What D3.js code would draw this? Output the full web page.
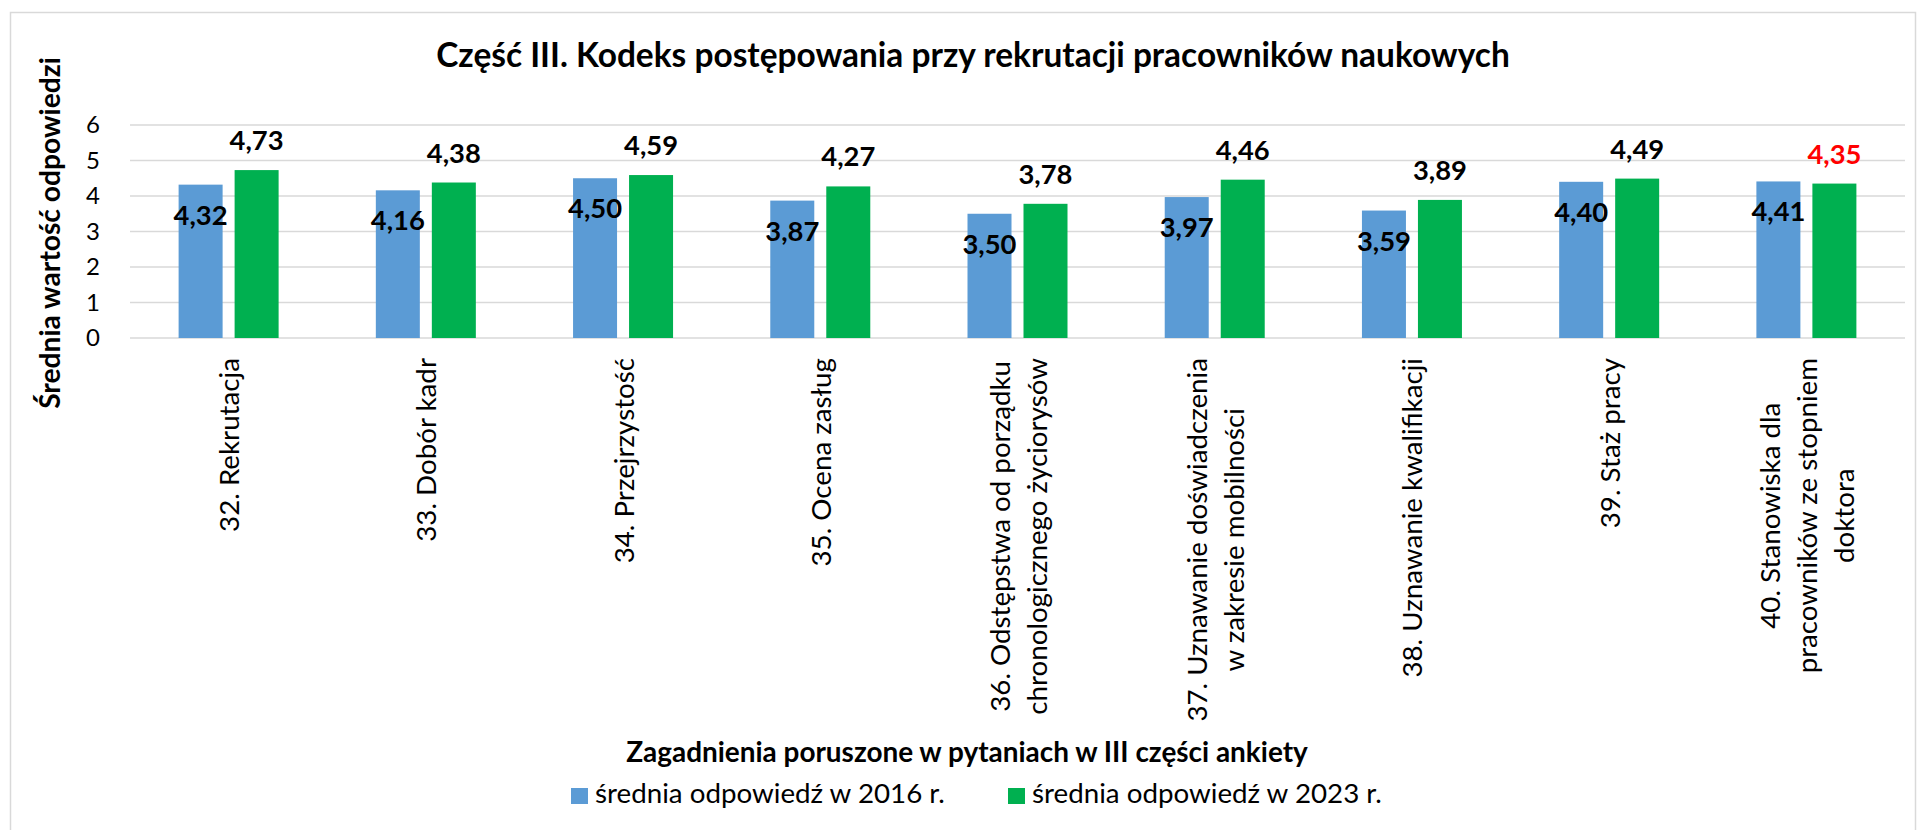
<!DOCTYPE html>
<html>
<head>
<meta charset="utf-8">
<script src="https://cdn.jsdelivr.net/npm/d3@7"></script>
<style>
  html, body { margin: 0; padding: 0; background: #fff; }
  svg { display: block; font-family: Lato, "Open Sans", sans-serif; }
</style>
</head>
<body>
<svg id="chart" width="1917" height="830"></svg>
<script>
// data ----------------------------------
const categories = [
    ['32. Rekrutacja'],
    ['33. Dobór kadr'],
    ['34. Przejrzystość'],
    ['35. Ocena zasług'],
    ['36. Odstępstwa od porządku', 'chronologicznego życiorysów'],
    ['37. Uznawanie doświadczenia', 'w zakresie mobilności'],
    ['38. Uznawanie kwalifikacji'],
    ['39. Staż pracy'],
    ['40. Stanowiska dla', 'pracowników ze stopniem', 'doktora']
];
const values2016 = [4.32, 4.16, 4.50, 3.87, 3.50, 3.97, 3.59, 4.40, 4.41];
const values2023 = [4.73, 4.38, 4.59, 4.27, 3.78, 4.46, 3.89, 4.49, 4.35];
const seriesNames = ['średnia odpowiedź w 2016 r.', 'średnia odpowiedź w 2023 r.'];
const seriesColors = ['#5b9bd5', '#00b050'];
const yTicks = [0, 1, 2, 3, 4, 5, 6];
const chartTitle = 'Część III. Kodeks postępowania przy rekrutacji pracowników naukowych';
const xTitle = 'Zagadnienia poruszone w pytaniach w III części ankiety';
const yTitle = 'Średnia wartość odpowiedzi';

const svg = d3.select('#chart');
const margin = { top: 125, right: 12, bottom: 492, left: 130 };
const width = 1917 - margin.left - margin.right;
const height = 830 - margin.top - margin.bottom;

const fmt = v => d3.format('.2f')(v).replace('.', ',');

// scale text so that its measured length equals the target
function fitTo(sel, target) {
    const w = sel.node().getComputedTextLength();
    const fs = parseFloat(sel.attr('font-size'));
    const nfs = fs * target / w;
    sel.attr('font-size', nfs);
    return nfs;
}

// frame
svg.append('rect')
    .attr('x', 10.5).attr('y', 12.5)
    .attr('width', 1905).attr('height', 830)
    .attr('fill', 'none').attr('stroke', '#d9d9d9').attr('stroke-width', 1.5);

const g = svg.append('g').attr('transform', 'translate(' + margin.left + ',' + margin.top + ')');

const idx = d3.range(categories.length);
const x0 = d3.scaleBand().domain(idx).range([0, width]).padding(0);
const x1 = d3.scaleBand().domain([0, 1]).range([0, x0.bandwidth()])
    .paddingInner(12 / 56).paddingOuter(0.868);
const y = d3.scaleLinear().domain([0, 6]).range([height, 0]);

// grid
g.append('g').selectAll('line').data(yTicks).join('line')
    .attr('x1', 0).attr('x2', width)
    .attr('y1', d => y(d)).attr('y2', d => y(d))
    .attr('stroke', '#d9d9d9').attr('stroke-width', 1.5);

// y axis tick labels
const yAxis = d3.axisLeft(y).tickValues(yTicks).tickFormat(d3.format('d')).tickSize(0).tickPadding(30);
const ya = g.append('g').call(yAxis);
ya.select('.domain').remove();
ya.selectAll('text').attr('font-size', 24).attr('fill', '#000')
    .attr('font-family', 'Lato, sans-serif');

// bars
const series = [values2016, values2023];
series.forEach((vals, s) => {
    g.append('g').selectAll('rect').data(vals).join('rect')
        .attr('x', (d, i) => x0(i) + x1(s))
        .attr('y', d => y(d))
        .attr('width', x1.bandwidth())
        .attr('height', d => y(0) - y(d))
        .attr('fill', seriesColors[s]);
});

// data labels
const lab16 = g.append('g').selectAll('text').data(values2016).join('text')
    .attr('x', (d, i) => x0(i) + x1(0) + x1.bandwidth() / 2)
    .attr('y', d => y(d) + 40)
    .attr('text-anchor', 'middle').attr('font-weight', 'bold').attr('font-size', 26)
    .attr('fill', '#000')
    .text(fmt);
const lab23 = g.append('g').selectAll('text').data(values2023).join('text')
    .attr('x', (d, i) => x0(i) + x1(1) + x1.bandwidth() / 2)
    .attr('y', d => y(d) - 20)
    .attr('text-anchor', 'middle').attr('font-weight', 'bold').attr('font-size', 26)
    .attr('fill', (d, i) => i === categories.length - 1 ? '#ff0000' : '#000')
    .text(fmt);
const lfs = fitTo(d3.select(lab23.nodes()[0]), 54);
lab16.attr('font-size', lfs);
lab23.attr('font-size', lfs);

// category labels (rotated, multi-line, centred)
const catG = g.append('g').selectAll('g').data(categories).join('g')
    .attr('transform', (d, i) => 'translate(' + (x0(i) + x0.bandwidth() / 2) + ',' + (height + 20) + ') rotate(-90)');
const probe = catG.filter((d, i) => i === 0).append('text').attr('font-size', 26).text(d => d[0]);
const cfs = fitTo(probe, 174);
probe.remove();
catG.each(function (lines) {
    const el = d3.select(this);
    const ts = el.selectAll('text').data(lines).join('text')
        .attr('font-size', cfs).attr('fill', '#000')
        .attr('text-anchor', 'middle').attr('dominant-baseline', 'central')
        .text(d => d);
    const L = d3.max(ts.nodes(), n => n.getComputedTextLength());
    const lh = 37;
    ts.attr('x', -L / 2).attr('y', (d, k) => (k - (lines.length - 1) / 2) * lh);
});

// title
const t = svg.append('text').attr('x', 973).attr('y', 67)
    .attr('text-anchor', 'middle').attr('font-weight', 'bold').attr('font-size', 30)
    .text(chartTitle);
fitTo(t, 1074);

// y title
const yt = svg.append('text')
    .attr('transform', 'translate(49,233) rotate(-90)')
    .attr('text-anchor', 'middle').attr('dominant-baseline', 'central')
    .attr('font-weight', 'bold').attr('font-size', 26)
    .text(yTitle);
fitTo(yt, 352);

// x title
const xt = svg.append('text').attr('x', 967).attr('y', 762)
    .attr('text-anchor', 'middle').attr('font-weight', 'bold').attr('font-size', 26)
    .text(xTitle);
fitTo(xt, 682);

// legend
const legX = [571, 1008];
const leg = svg.append('g').selectAll('g').data(seriesNames).join('g')
    .attr('transform', (d, i) => 'translate(' + legX[i] + ',788)');
leg.append('rect').attr('width', 17).attr('height', 16)
    .attr('fill', (d, i) => seriesColors[i]);
const legT = leg.append('text').attr('x', 24).attr('y', 15)
    .attr('font-size', 24).attr('fill', '#000').text(d => d);
const lgfs = fitTo(d3.select(legT.nodes()[0]), 350);
legT.attr('font-size', lgfs);
</script>
</body>
</html>
